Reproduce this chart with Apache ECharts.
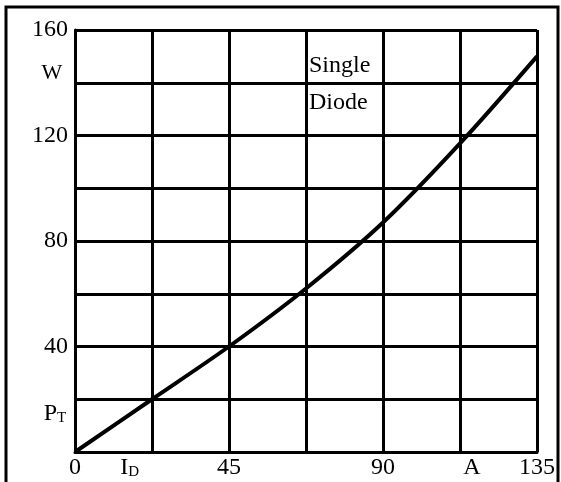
<!DOCTYPE html>
<html>
<head>
<meta charset="utf-8">
<script src="https://cdn.jsdelivr.net/npm/echarts@6/dist/echarts.min.js"></script>
<style>
html, body { margin: 0; padding: 0; background: #fff; }
#main { width: 561px; height: 482px; }
</style>
</head>
<body>
<div id="main"></div>
<script>
// current (A) vs total power dissipation (W), single diode
const current = [0, 22.5, 45, 67.5, 90, 112.5, 135];
const power = [0, 20, 40, 62, 87, 117, 150];
const xTickLabels = [0, 45, 90, 135];
const yTickLabels = [40, 80, 120, 160];
const noteLines = ['Single', 'Diode'];

const chart = echarts.init(document.getElementById('main'));
const font = 'Liberation Serif';
const ink = '#000';

const option = {
    animation: false,
    backgroundColor: '#fff',
    grid: {
        left: 75,
        top: 30,
        width: 462,
        height: 422,
        outerBoundsMode: 'none'
    },
    xAxis: {
        type: 'value',
        min: 0,
        max: 135,
        interval: 22.5,
        axisLine: { lineStyle: { color: ink, width: 3 } },
        axisTick: { show: false },
        splitLine: { lineStyle: { color: ink, width: 3 } },
        axisLabel: {
            color: ink,
            fontFamily: font,
            fontSize: 24,
            margin: 4,
            showMinLabel: true,
            showMaxLabel: true,
            formatter: v => xTickLabels.includes(v) ? String(v) : ''
        }
    },
    yAxis: {
        type: 'value',
        min: 0,
        max: 160,
        interval: 20,
        axisLine: { show: true, lineStyle: { color: ink, width: 3 } },
        axisTick: { show: false },
        splitLine: { lineStyle: { color: ink, width: 3 } },
        axisLabel: {
            color: ink,
            fontFamily: font,
            fontSize: 24,
            margin: 7,
            showMinLabel: true,
            showMaxLabel: true,
            formatter: v => yTickLabels.includes(v) ? String(v) : ''
        }
    },
    series: [{
        type: 'line',
        data: current.map((c, i) => [c, power[i]]),
        smooth: 0.3,
        symbol: 'none',
        lineStyle: { color: ink, width: 4 }
    }]
};

chart.setOption(option);

// extra axis annotations placed through the chart's own scales
const px = (x, y) => chart.convertToPixel({ gridIndex: 0 }, [x, y]);
const sub = {
    a: { fontFamily: font, fontSize: 24, color: ink, verticalAlign: 'bottom' },
    b: { fontFamily: font, fontSize: 15, color: ink, verticalAlign: 'bottom' }
};
const bottomY = px(0, 0)[1] + 16;
const notePos = px(67.5, 139.5);

chart.setOption({
    graphic: [
        {
            type: 'rect',
            shape: { x: 6, y: 7, width: 552, height: 490 },
            style: { fill: 'none', stroke: ink, lineWidth: 3 },
            silent: true
        },
        {
            type: 'text',
            x: 52, y: px(0, 143.5)[1],
            style: { text: 'W', font: '22px ' + font, fill: ink, align: 'center', verticalAlign: 'middle' }
        },
        {
            type: 'text',
            x: 55, y: px(0, 14.5)[1],
            style: { text: '{a|P}{b|T}', rich: sub, align: 'center', verticalAlign: 'middle' }
        },
        {
            type: 'text',
            x: px(16, 0)[0], y: bottomY,
            style: { text: '{a|I}{b|D}', rich: sub, align: 'center', verticalAlign: 'middle' }
        },
        {
            type: 'text',
            x: px(116, 0)[0], y: bottomY,
            style: { text: 'A', font: '24px ' + font, fill: ink, align: 'center', verticalAlign: 'middle' }
        },
        {
            type: 'text',
            x: notePos[0] + 3, y: notePos[1],
            style: {
                text: noteLines.join('\n'),
                font: '24px ' + font,
                lineHeight: 37,
                fill: ink,
                align: 'left',
                verticalAlign: 'middle'
            }
        }
    ]
});
</script>
</body>
</html>
